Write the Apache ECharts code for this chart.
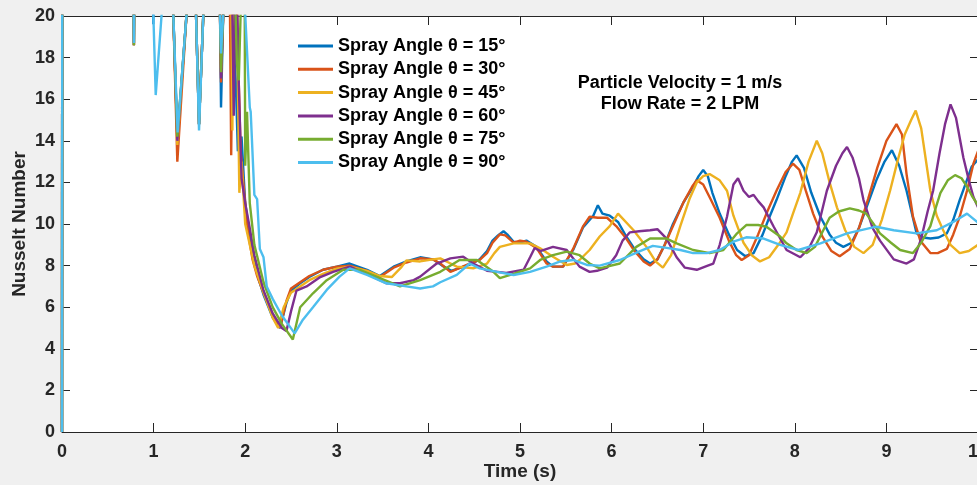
<!DOCTYPE html>
<html>
<head>
<meta charset="utf-8">
<script src="https://cdn.jsdelivr.net/npm/echarts@6/dist/echarts.min.js"></script>
<style>
html,body{margin:0;padding:0;background:#f0f0f0;}
#chart{width:977px;height:485px;}
</style>
</head>
<body>
<div id="chart"></div>
<script>
// ---- data (time s, Nusselt number); values above 20 are off-scale (clipped at top) ----
const seriesNames = ['Spray Angle θ = 15°','Spray Angle θ = 30°','Spray Angle θ = 45°','Spray Angle θ = 60°','Spray Angle θ = 75°','Spray Angle θ = 90°'];
const xTicks = [0,1,2,3,4,5,6,7,8,9,10];
const yTicks = [0,2,4,6,8,10,12,14,16,18,20];
const noteLines = ['Particle Velocity = 1 m/s','Flow Rate = 2 LPM'];

const angle15 = [[0,0],[0.003,25],[0.775,25],[0.785,18.7],[0.795,25],[0.99,25],[0.997,19.6],[1.003,25],[1.2,25],[1.215,20.1],[1.259,14.1],[1.36,20.1],[1.37,25],[1.455,25],[1.463,20.1],[1.496,14.8],[1.543,20.1],[1.55,25],[1.72,25],[1.725,20.1],[1.736,15.6],[1.76,20.1],[1.765,25],[1.86,25],[1.875,20.1],[1.92,13.5],[1.96,14.2],[2.0,11.0],[2.05,9.5],[2.1,8.2],[2.15,7.3],[2.2,6.6],[2.3,5.5],[2.38,5.0],[2.45,6.2],[2.5,6.8],[2.6,7.15],[2.7,7.45],[2.85,7.8],[3.0,7.95],[3.14,8.1],[3.33,7.8],[3.47,7.5],[3.62,7.95],[3.76,8.2],[3.91,8.4],[4.05,8.3],[4.15,8.0],[4.25,7.75],[4.35,7.9],[4.45,8.05],[4.56,8.3],[4.64,8.7],[4.7,9.2],[4.76,9.45],[4.82,9.65],[4.86,9.5],[4.93,9.15],[5.0,9.1],[5.07,9.2],[5.18,8.9],[5.29,8.2],[5.36,7.95],[5.47,7.95],[5.58,8.75],[5.69,9.85],[5.8,10.4],[5.85,10.9],[5.9,10.5],[5.98,10.4],[6.07,10.1],[6.16,9.4],[6.25,8.8],[6.35,8.3],[6.42,8.1],[6.5,8.3],[6.58,9.0],[6.67,10.0],[6.78,11.0],[6.89,11.8],[6.95,12.3],[7.0,12.6],[7.05,12.3],[7.1,11.5],[7.18,10.5],[7.28,9.5],[7.37,8.75],[7.46,8.45],[7.55,8.6],[7.65,9.5],[7.72,10.3],[7.8,11.15],[7.9,12.3],[7.97,13.0],[8.02,13.3],[8.1,12.7],[8.18,11.5],[8.28,10.35],[8.38,9.5],[8.45,9.1],[8.53,8.9],[8.62,9.1],[8.7,9.8],[8.8,11.0],[8.89,12.1],[8.98,13.0],[9.06,13.55],[9.14,12.8],[9.22,11.6],[9.33,9.55],[9.4,9.35],[9.48,9.3],[9.57,9.35],[9.66,9.55],[9.73,10.2],[9.8,11.15],[9.87,12.0],[9.93,12.75],[10.0,13.1]];

const angle30 = [[0,0],[0.003,25],[0.775,25],[0.785,18.6],[0.795,25],[1.2,25],[1.215,20.1],[1.259,13.0],[1.36,20.1],[1.37,25],[1.455,25],[1.463,20.1],[1.496,14.8],[1.543,20.1],[1.55,25],[1.72,25],[1.725,20.1],[1.736,16.8],[1.76,20.1],[1.765,25],[1.825,25],[1.834,20.1],[1.847,13.3],[1.862,20.1],[1.87,25],[1.9,25],[1.91,20.1],[1.95,13.5],[1.99,11.5],[2.03,9.6],[2.08,8.3],[2.13,7.5],[2.2,6.7],[2.3,5.6],[2.38,5.0],[2.45,6.3],[2.5,6.9],[2.6,7.2],[2.7,7.5],[2.85,7.8],[3.0,7.95],[3.14,8.0],[3.33,7.75],[3.47,7.45],[3.62,7.9],[3.76,8.15],[3.91,8.35],[4.05,8.3],[4.13,8.1],[4.24,7.7],[4.35,7.9],[4.45,8.1],[4.56,8.27],[4.64,8.6],[4.7,9.1],[4.78,9.5],[4.84,9.45],[4.93,9.1],[5.0,9.2],[5.07,9.15],[5.18,8.85],[5.29,8.1],[5.36,7.95],[5.47,7.95],[5.58,8.8],[5.69,9.9],[5.76,10.35],[5.85,10.3],[5.95,10.3],[6.05,9.9],[6.16,9.3],[6.25,8.7],[6.35,8.2],[6.42,8.0],[6.5,8.3],[6.58,9.0],[6.67,9.9],[6.78,11.0],[6.88,11.8],[6.93,12.1],[7.0,11.9],[7.08,11.2],[7.18,10.3],[7.28,9.2],[7.36,8.5],[7.42,8.27],[7.5,8.5],[7.6,9.5],[7.7,10.6],[7.8,11.6],[7.9,12.5],[7.98,12.9],[8.05,12.6],[8.12,11.6],[8.2,10.5],[8.3,9.4],[8.4,8.7],[8.49,8.45],[8.6,8.8],[8.7,9.8],[8.8,11.2],[8.9,12.7],[9.0,14.0],[9.11,14.8],[9.17,14.3],[9.22,12.4],[9.29,10.35],[9.37,9.2],[9.48,8.6],[9.56,8.6],[9.66,8.8],[9.73,9.5],[9.8,10.35],[9.88,11.6],[9.95,12.9],[10.0,13.5]];

const angle45 = [[0,0],[0.003,25],[0.775,25],[0.785,18.6],[0.795,25],[1.2,25],[1.215,20.1],[1.259,13.8],[1.36,20.1],[1.37,25],[1.455,25],[1.463,20.1],[1.496,14.8],[1.543,20.1],[1.55,25],[1.72,25],[1.725,20.1],[1.736,17.5],[1.76,20.1],[1.765,25],[1.84,25],[1.85,20.1],[1.86,14.5],[1.87,20.1],[1.88,25],[1.9,25],[1.91,20.1],[1.936,11.5],[1.96,13.0],[2.0,10.0],[2.05,9.0],[2.1,8.0],[2.2,6.7],[2.3,5.5],[2.36,5.0],[2.42,6.0],[2.5,6.7],[2.6,7.0],[2.7,7.3],[2.85,7.6],[3.0,7.85],[3.14,7.95],[3.33,7.75],[3.47,7.5],[3.6,7.45],[3.7,7.9],[3.76,8.25],[3.91,8.2],[4.05,8.3],[4.13,8.35],[4.22,8.15],[4.31,7.95],[4.49,7.87],[4.64,8.1],[4.72,8.6],[4.78,8.9],[4.93,9.07],[5.11,9.07],[5.22,8.83],[5.36,8.43],[5.51,8.03],[5.6,8.1],[5.65,8.27],[5.76,8.75],[5.87,9.4],[5.98,9.9],[6.07,10.5],[6.09,10.5],[6.24,9.7],[6.38,8.9],[6.48,8.2],[6.56,7.9],[6.65,8.5],[6.75,9.9],[6.85,11.2],[6.93,12.0],[7.0,12.3],[7.07,12.4],[7.18,12.1],[7.26,11.6],[7.33,10.4],[7.44,9.1],[7.53,8.5],[7.62,8.2],[7.72,8.4],[7.82,9.0],[7.91,9.6],[7.98,10.5],[8.06,11.5],[8.15,13.0],[8.24,14.0],[8.3,13.4],[8.38,12.0],[8.46,10.8],[8.55,9.7],[8.65,8.9],[8.75,8.6],[8.85,9.0],[8.95,10.2],[9.04,11.6],[9.12,13.0],[9.2,14.3],[9.27,15.0],[9.32,15.45],[9.38,14.6],[9.44,12.8],[9.48,11.6],[9.55,10.4],[9.62,9.7],[9.7,9.0],[9.8,8.6],[9.9,8.7],[10.0,9.0]];

const angle60 = [[0,0],[0.003,25],[0.775,25],[0.785,18.6],[0.795,25],[1.2,25],[1.215,20.1],[1.259,14.0],[1.36,20.1],[1.37,25],[1.455,25],[1.463,20.1],[1.496,14.8],[1.543,20.1],[1.55,25],[1.72,25],[1.725,20.1],[1.736,17.0],[1.76,20.1],[1.765,25],[1.85,25],[1.86,20.1],[1.875,15.2],[1.89,20.1],[1.9,21],[1.915,20.1],[1.93,16.7],[1.96,12.2],[2.0,11.0],[2.05,9.8],[2.1,8.5],[2.2,6.8],[2.3,5.7],[2.4,5.0],[2.45,4.85],[2.5,5.8],[2.56,6.8],[2.67,7.0],[2.82,7.45],[2.96,7.7],[3.14,7.95],[3.33,7.6],[3.54,7.15],[3.69,7.15],[3.84,7.3],[3.91,7.47],[4.09,8.1],[4.24,8.35],[4.38,8.43],[4.49,8.1],[4.64,7.75],[4.85,7.65],[5.04,7.8],[5.11,8.4],[5.16,8.85],[5.22,8.7],[5.36,8.9],[5.51,8.75],[5.65,7.95],[5.76,7.7],[5.84,7.75],[5.95,7.9],[6.05,8.5],[6.12,9.2],[6.2,9.6],[6.3,9.65],[6.42,9.7],[6.5,9.75],[6.6,9.3],[6.71,8.4],[6.8,7.9],[6.93,7.8],[7.05,8.0],[7.11,8.1],[7.18,9.0],[7.26,10.35],[7.33,11.9],[7.38,12.2],[7.44,11.6],[7.5,11.3],[7.55,11.4],[7.6,11.1],[7.66,10.8],[7.77,9.87],[7.91,8.75],[8.06,8.4],[8.15,8.8],[8.24,9.6],[8.35,11.6],[8.45,12.8],[8.52,13.4],[8.57,13.7],[8.63,13.2],[8.7,12.2],[8.75,11.15],[8.85,9.8],[8.93,9.2],[9.08,8.3],[9.22,8.1],[9.3,8.3],[9.38,9.3],[9.45,10.6],[9.51,11.6],[9.58,13.4],[9.64,14.8],[9.7,15.75],[9.76,15.1],[9.84,13.2],[9.9,12.1],[9.95,11.3],[10.0,10.8]];

const angle75 = [[0,0],[0.003,25],[0.775,25],[0.785,18.6],[0.795,25],[1.2,25],[1.215,20.1],[1.259,14.2],[1.36,20.1],[1.37,25],[1.455,25],[1.463,20.1],[1.496,14.8],[1.543,20.1],[1.55,25],[1.72,25],[1.725,20.1],[1.736,17.3],[1.76,20.1],[1.765,25],[1.88,25],[1.895,20.1],[1.91,17.7],[1.93,16.9],[1.95,20.1],[1.96,25],[1.985,25],[1.995,20.1],[2.0,12.8],[2.02,15.4],[2.05,11.0],[2.1,9.0],[2.2,7.2],[2.3,6.0],[2.4,5.2],[2.52,4.45],[2.6,6.0],[2.74,6.67],[2.89,7.3],[3.07,7.8],[3.25,7.8],[3.47,7.4],[3.69,7.0],[3.91,7.3],[4.13,7.7],[4.34,8.27],[4.53,8.27],[4.71,7.7],[4.78,7.4],[4.93,7.6],[5.11,7.87],[5.22,8.27],[5.36,8.5],[5.51,8.67],[5.65,8.5],[5.76,8.1],[5.87,7.87],[6.09,8.1],[6.27,8.9],[6.42,9.3],[6.6,9.3],[6.71,9.07],[6.89,8.75],[7.07,8.6],[7.22,8.75],[7.37,9.55],[7.47,9.95],[7.6,9.95],[7.69,9.87],[7.84,9.4],[7.91,9.07],[8.02,8.75],[8.13,8.6],[8.22,8.9],[8.3,9.6],[8.38,10.3],[8.48,10.6],[8.6,10.75],[8.7,10.65],[8.78,10.5],[8.86,10.0],[8.93,9.55],[9.05,9.1],[9.15,8.75],[9.29,8.6],[9.38,9.1],[9.48,9.9],[9.54,10.8],[9.59,11.5],[9.67,12.1],[9.75,12.35],[9.82,12.2],[9.88,11.8],[9.94,11.3],[10.0,10.9]];

const angle90 = [[0,0],[0.003,25],[0.775,25],[0.785,18.7],[0.795,25],[0.99,25],[0.997,20.1],[1.023,16.2],[1.088,20.1],[1.095,25],[1.2,25],[1.215,20.1],[1.262,14.4],[1.36,20.1],[1.37,25],[1.455,25],[1.463,20.1],[1.496,14.5],[1.543,20.1],[1.55,25],[1.72,25],[1.725,20.1],[1.736,18.2],[1.76,20.1],[1.765,25],[1.99,25],[2.0,20.1],[2.05,15.6],[2.06,15.4],[2.1,11.4],[2.13,11.2],[2.16,8.8],[2.2,8.4],[2.235,7.0],[2.3,6.4],[2.4,5.6],[2.54,4.74],[2.63,5.4],[2.74,6.0],[2.89,6.83],[3.03,7.47],[3.14,7.87],[3.33,7.55],[3.54,7.15],[3.76,7.0],[3.91,6.9],[4.05,7.0],[4.13,7.2],[4.31,7.55],[4.45,8.1],[4.56,7.87],[4.75,7.7],[4.93,7.55],[5.11,7.7],[5.29,7.95],[5.44,8.2],[5.58,8.27],[5.73,8.03],[5.87,8.0],[6.09,8.27],[6.31,8.7],[6.45,8.95],[6.6,8.85],[6.75,8.75],[6.89,8.6],[7.04,8.6],[7.18,8.75],[7.33,9.15],[7.47,9.36],[7.66,9.3],[7.84,9.0],[8.04,8.75],[8.28,9.07],[8.57,9.55],[8.89,9.87],[9.08,9.7],[9.33,9.55],[9.55,9.7],[9.73,10.1],[9.88,10.5],[9.99,10.1],[10.0,10.05]];

const seriesData = [angle15, angle30, angle45, angle60, angle75, angle90];
const colors = ['#0072BD','#D95319','#EDB120','#7E2F8E','#77AC30','#4DBEEE'];

const FONT = '"Liberation Sans", Arial, Helvetica, sans-serif';
const axisColor = '#262626';

const chart = echarts.init(document.getElementById('chart'), null, {renderer:'canvas'});

const tickLabel = {fontFamily: FONT, fontWeight: 'bold', fontSize: 18, color: axisColor};

const option = {
  animation: false,
  backgroundColor: '#f0f0f0',
  color: colors,
  grid: {left: 62, top: 16, width: 916, bottom: 53, show: true, backgroundColor: '#ffffff', borderWidth: 0, containLabel: false, outerBoundsMode: 'none'},
  legend: {
    data: seriesNames,
    orient: 'vertical',
    left: 298, top: 37, padding: 0,
    icon: 'rect', itemWidth: 35, itemHeight: 3, itemGap: 5.3,
    textStyle: {fontFamily: FONT, fontWeight: 'bold', fontSize: 18, color: '#000', lineHeight: 18}
  },
  xAxis: [{
    type: 'value', min: xTicks[0], max: xTicks[xTicks.length-1], interval: 1,
    name: 'Time (s)', nameLocation: 'middle', nameGap: 30, nameMoveOverlap: false,
    nameTextStyle: {fontFamily: FONT, fontWeight: 'bold', fontSize: 19, color: axisColor},
    axisLine: {show: true, lineStyle: {color: axisColor, width: 1}},
    axisTick: {show: true, inside: true, length: 9, lineStyle: {color: axisColor}},
    axisLabel: Object.assign({margin: 11}, tickLabel),
    splitLine: {show: false}
  },{
    type: 'value', position: 'top', min: xTicks[0], max: xTicks[xTicks.length-1], interval: 1,
    axisLine: {show: true, onZero: false, lineStyle: {color: axisColor, width: 1}},
    axisTick: {show: true, inside: true, length: 9, lineStyle: {color: axisColor}},
    axisLabel: {show: false}, splitLine: {show: false}
  }],
  yAxis: [{
    type: 'value', min: yTicks[0], max: yTicks[yTicks.length-1], interval: 2,
    name: 'Nusselt Number', nameLocation: 'middle', nameGap: 33, nameMoveOverlap: false,
    nameTextStyle: {fontFamily: FONT, fontWeight: 'bold', fontSize: 19, color: axisColor},
    axisLine: {show: true, lineStyle: {color: axisColor, width: 1}},
    axisTick: {show: true, inside: true, length: 8, lineStyle: {color: axisColor}},
    axisLabel: Object.assign({margin: 7}, tickLabel),
    splitLine: {show: false}
  },{
    type: 'value', position: 'right', min: yTicks[0], max: yTicks[yTicks.length-1], interval: 2,
    axisLine: {show: true, onZero: false, lineStyle: {color: axisColor, width: 1}},
    axisTick: {show: true, inside: true, length: 8, lineStyle: {color: axisColor}},
    axisLabel: {show: false}, splitLine: {show: false}
  }],
  series: seriesNames.map((name, i) => ({
    name: name,
    type: 'line',
    data: seriesData[i],
    showSymbol: false,
    symbol: 'none',
    clip: true,
    lineStyle: {width: 2.4, color: colors[i]},
    itemStyle: {color: colors[i]},
    z: 2 + i
  }))
};

option.graphic = noteLines.map((t, k) => ({
  type: 'text',
  x: 680, y: 83 + k * 21,
  style: {text: t, fill: '#000', font: 'bold 18px ' + FONT, textAlign: 'center', textVerticalAlign: 'middle'},
  z: 100
}));

chart.setOption(option);
</script>
</body>
</html>
